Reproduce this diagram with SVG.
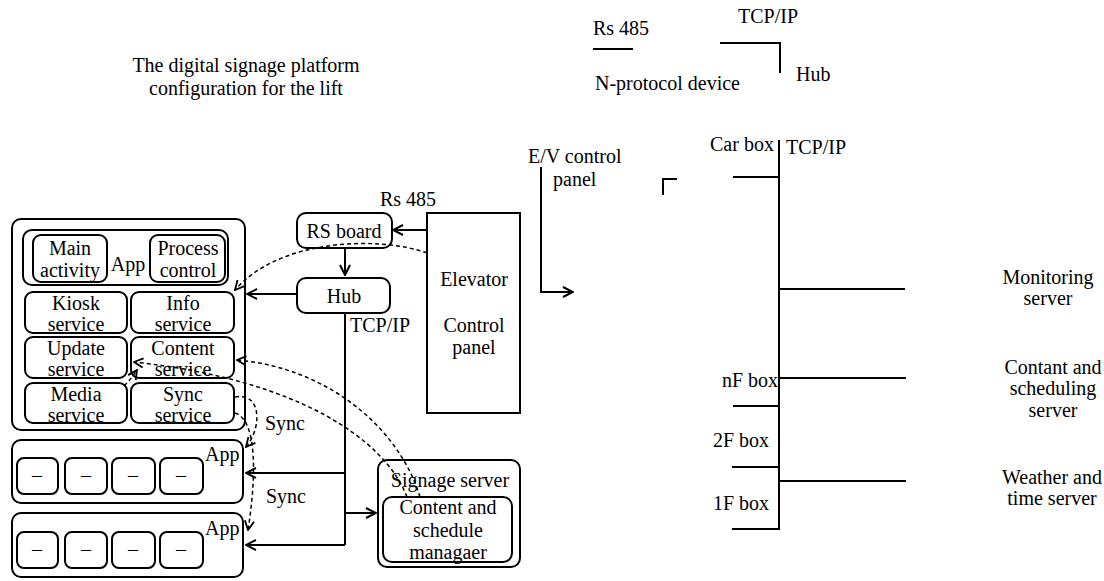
<svg xmlns="http://www.w3.org/2000/svg" width="1104" height="581" viewBox="0 0 1104 581" font-family="'Liberation Serif', 'DejaVu Serif', serif">
<style>
text{font-family:'Liberation Serif','DejaVu Serif',serif;font-size:20px;fill:#000}
.m{text-anchor:middle}
.box{fill:#fff;stroke:#000;stroke-width:2}
.ln{fill:none;stroke:#000;stroke-width:2}
.ds{fill:none;stroke:#000;stroke-width:1.5;stroke-dasharray:4 3}
</style>
<defs>
<marker id="arr" viewBox="0 0 12 12" refX="11" refY="6" markerWidth="12" markerHeight="12" orient="auto" markerUnits="userSpaceOnUse"><path d="M1,1 L11,6 L1,11" fill="none" stroke="#000" stroke-width="2"/></marker>
<marker id="arrd" viewBox="0 0 12 12" refX="11" refY="6" markerWidth="11" markerHeight="11" orient="auto" markerUnits="userSpaceOnUse"><path d="M1,1 L11,6 L1,11" fill="none" stroke="#000" stroke-width="2"/></marker>
</defs>
<rect width="1104" height="581" fill="#fff"/>

<g id="title">
<text class="m" x="246" y="72">The digital signage platform</text>
<text class="m" x="246" y="95">configuration for the lift</text>
</g>

<g id="terminal">
<rect class="box" x="12" y="219" width="233" height="211" rx="9"/>
<g id="app-box"><rect class="box" x="23" y="230" width="205" height="55" rx="9"/><text class="m" x="128" y="271">App</text></g>
<g id="main-activity"><rect class="box" x="33" y="235" width="74" height="47" rx="8"/><text class="m" x="70" y="255">Main</text><text class="m" x="70" y="277">activity</text></g>
<g id="process-control"><rect class="box" x="150" y="235" width="75" height="47" rx="8"/><text class="m" x="188" y="255">Process</text><text class="m" x="188" y="277">control</text></g>
<g id="kiosk"><rect class="box" x="25" y="292" width="102" height="41" rx="8"/><text class="m" x="76" y="310">Kiosk</text><text class="m" x="76" y="331">service</text></g>
<g id="info"><rect class="box" x="131" y="292" width="103" height="41" rx="8"/><text class="m" x="183" y="310">Info</text><text class="m" x="183" y="331">service</text></g>
<g id="update"><rect class="box" x="25" y="337" width="102" height="41" rx="8"/><text class="m" x="76" y="355">Update</text><text class="m" x="76" y="376">service</text></g>
<g id="content"><rect class="box" x="131" y="337" width="103" height="41" rx="8"/><text class="m" x="183" y="355">Content</text><text class="m" x="183" y="376">service</text></g>
<g id="media"><rect class="box" x="25" y="383" width="102" height="40" rx="8"/><text class="m" x="76" y="401">Media</text><text class="m" x="76" y="422">service</text></g>
<g id="sync"><rect class="box" x="131" y="383" width="103" height="40" rx="8"/><text class="m" x="183" y="401">Sync</text><text class="m" x="183" y="422">service</text></g>
</g>

<g id="app-row1">
<rect class="box" x="12" y="440" width="231" height="63" rx="9"/>
<rect class="box" x="17" y="458" width="41" height="36" rx="7"/><text class="m" x="37" y="482">–</text>
<rect class="box" x="65" y="458" width="42" height="36" rx="7"/><text class="m" x="86" y="482">–</text>
<rect class="box" x="112" y="458" width="43" height="36" rx="7"/><text class="m" x="133" y="482">–</text>
<rect class="box" x="160" y="458" width="43" height="36" rx="7"/><text class="m" x="181" y="482">–</text>
<text x="205" y="461">App</text>
</g>
<g id="app-row2">
<rect class="box" x="12" y="513" width="231" height="64" rx="9"/>
<rect class="box" x="17" y="532" width="41" height="36" rx="7"/><text class="m" x="37" y="556">–</text>
<rect class="box" x="65" y="532" width="42" height="36" rx="7"/><text class="m" x="86" y="556">–</text>
<rect class="box" x="112" y="532" width="43" height="36" rx="7"/><text class="m" x="133" y="556">–</text>
<rect class="box" x="160" y="532" width="43" height="36" rx="7"/><text class="m" x="181" y="556">–</text>
<text x="205" y="535">App</text>
</g>

<g id="rs-board"><rect class="box" x="297" y="213" width="95" height="35" rx="9"/><text class="m" x="344" y="238">RS board</text></g>
<g id="hub"><rect class="box" x="297" y="278" width="93" height="35" rx="9"/><text class="m" x="344" y="303">Hub</text></g>
<g id="elevator"><rect class="box" x="427" y="213" width="93" height="200"/><text class="m" x="474" y="286">Elevator</text><text class="m" x="474" y="332">Control</text><text class="m" x="474" y="354">panel</text></g>
<g id="signage-server">
<rect class="box" x="378" y="460" width="142" height="107" rx="9"/>
<text class="m" x="450" y="487">Signage server</text>
<rect class="box" x="383" y="497" width="129" height="65" rx="9"/>
<text class="m" x="448" y="514">Content and</text>
<text class="m" x="448" y="537">schedule</text>
<text class="m" x="448" y="559">managaer</text>
</g>

<g id="labels-left">
<text x="380" y="206">Rs 485</text>
<text x="350" y="332">TCP/IP</text>
<text x="265" y="430">Sync</text>
<text x="266" y="503">Sync</text>
</g>

<g id="connectors">
<line class="ln" x1="427" y1="230" x2="393" y2="230" marker-end="url(#arr)"/>
<line class="ln" x1="345" y1="248" x2="345" y2="275" marker-end="url(#arr)"/>
<line class="ln" x1="297" y1="294" x2="247" y2="294" marker-end="url(#arr)"/>
<line class="ln" x1="345" y1="313" x2="345" y2="545"/>
<line class="ln" x1="345" y1="473" x2="246" y2="473" marker-end="url(#arr)"/>
<line class="ln" x1="345" y1="513" x2="376" y2="513" marker-end="url(#arr)"/>
<line class="ln" x1="345" y1="545" x2="246" y2="545" marker-end="url(#arr)"/>
<path class="ds" d="M427,253 C380,236 280,238 235,290" marker-end="url(#arrd)"/>
<path class="ds" d="M407,497 C385,440 300,380 134,362" marker-end="url(#arrd)"/>
<path class="ds" d="M420,497 C400,430 330,368 237,360" marker-end="url(#arrd)"/>
<path class="ds" d="M124,386 C130,380 133,376 137,370" marker-end="url(#arrd)"/>
<path class="ds" d="M235,397 C262,392 262,428 246,447" marker-end="url(#arrd)"/>
<path class="ds" d="M235,413 C258,420 256,480 248,530" marker-end="url(#arrd)"/>
</g>

<g id="legend">
<text x="593" y="35">Rs 485</text>
<line class="ln" x1="593" y1="49" x2="633" y2="49"/>
<text x="738" y="23">TCP/IP</text>
<path class="ln" d="M720,43 L780,43 L780,73"/>
<text x="796" y="81">Hub</text>
<text x="595" y="90">N-protocol device</text>
</g>

<g id="ev-panel">
<text x="528" y="163">E/V control</text>
<text x="553" y="186">panel</text>
<path class="ln" d="M541,167 L541,292 L573,292" marker-end="url(#arr)"/>
<path class="ln" d="M677,179 L663,179 L663,195"/>
</g>

<g id="bus">
<text x="710" y="151">Car box</text>
<text x="786" y="154">TCP/IP</text>
<path class="ln" d="M779,140 L779,529"/>
<line class="ln" x1="733" y1="177" x2="779" y2="177"/>
<line class="ln" x1="778" y1="289" x2="905" y2="289"/>
<line class="ln" x1="778" y1="378" x2="906" y2="378"/>
<line class="ln" x1="733" y1="406" x2="779" y2="406"/>
<line class="ln" x1="732" y1="467" x2="779" y2="467"/>
<line class="ln" x1="778" y1="481" x2="906" y2="481"/>
<line class="ln" x1="732" y1="529" x2="780" y2="529"/>
<text x="722" y="387">nF box</text>
<text x="713" y="447">2F box</text>
<text x="713" y="510">1F box</text>
</g>

<g id="servers">
<text class="m" x="1048" y="284">Monitoring</text>
<text class="m" x="1048" y="305">server</text>
<text class="m" x="1053" y="374">Contant and</text>
<text class="m" x="1053" y="395">scheduling</text>
<text class="m" x="1053" y="417">server</text>
<text class="m" x="1052" y="484">Weather and</text>
<text class="m" x="1052" y="505">time server</text>
</g>
</svg>
